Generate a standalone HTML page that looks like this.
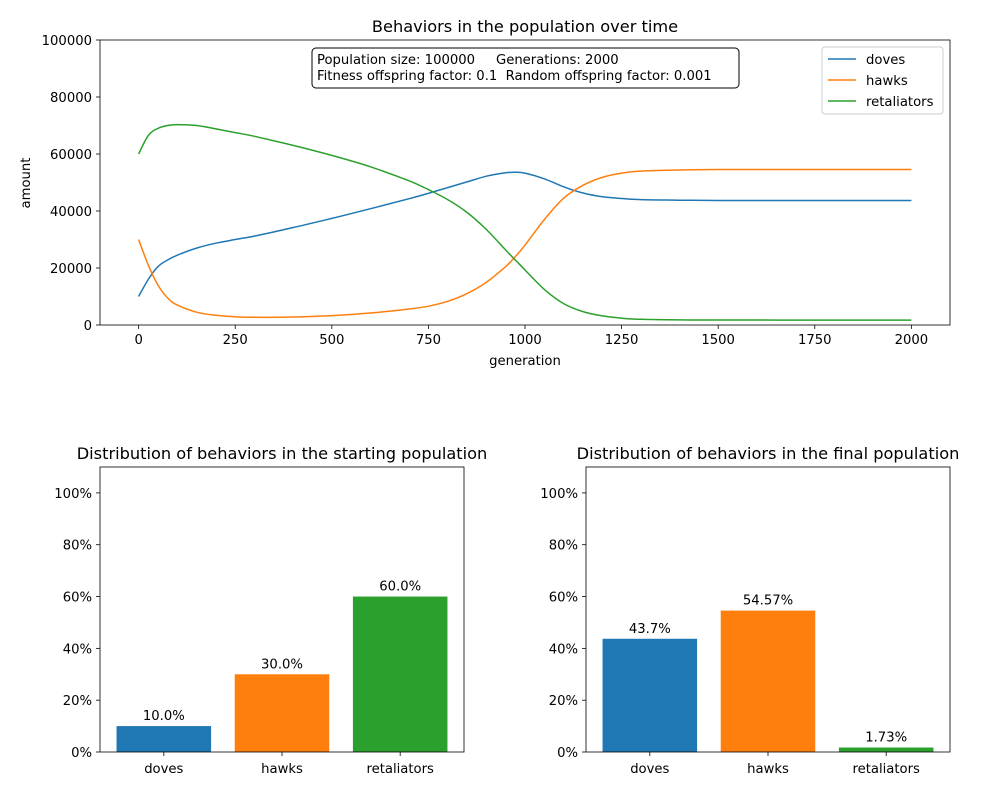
<!DOCTYPE html>
<html><head><meta charset="utf-8"><style>
body{margin:0;background:#fff;font-family:"Liberation Sans","DejaVu Sans",sans-serif}
svg text{font-family:"DejaVu Sans","Liberation Sans",sans-serif;white-space:pre}
</style></head><body>
<svg id="c" width="1000" height="800" xmlns="http://www.w3.org/2000/svg"></svg>
<script>
const gens=[0,25,50,75,100,150,200,250,300,400,500,600,700,750,800,850,900,950,975,1000,1050,1100,1150,1200,1250,1300,1400,1500,1750,2000];
const doves=[10000,16000,20500,22800,24500,27000,28700,30000,31200,34200,37400,40800,44300,46200,48200,50200,52200,53400,53600,53300,51300,48500,46300,45000,44400,44000,43800,43700,43700,43700];
const hawks=[30000,21000,14000,9500,7000,4500,3400,2900,2700,2800,3300,4200,5600,6600,8300,11000,15000,20500,24000,28000,37000,44500,49000,51800,53300,54000,54400,54570,54570,54570];
const retal=[60000,66500,69000,70000,70300,70000,68800,67500,66200,63000,59500,55500,50600,47500,44000,39500,33500,26300,22800,19300,12500,7500,4700,3200,2400,2000,1800,1750,1730,1730];
const cats=["doves","hawks","retaliators"];
const startVals=[10.0,30.0,60.0];
const finalVals=[43.7,54.57,1.73];
const startLabels=["10.0%","30.0%","60.0%"];
const finalLabels=["43.7%","54.57%","1.73%"];
const xTicks=[0,250,500,750,1000,1250,1500,1750,2000];
const yTicks=[0,20000,40000,60000,80000,100000];
const pTicks=[0,20,40,60,80,100];
const colors=["#1f77b4","#ff7f0e","#2ca02c"];
const NS="http://www.w3.org/2000/svg";
const svg=document.getElementById("c");
function el(t,a,txt){const e=document.createElementNS(NS,t);for(const k in a)e.setAttribute(k,a[k]);if(txt!==undefined)e.textContent=txt;svg.appendChild(e);return e;}
const X=g=>100+(g+100)/2200*850, Y=v=>325-v/100000*285;
function smooth(pts){let d="M"+pts[0][0].toFixed(1)+","+pts[0][1].toFixed(1);
 for(let i=0;i<pts.length-1;i++){const p0=pts[Math.max(i-1,0)],p1=pts[i],p2=pts[i+1],p3=pts[Math.min(i+2,pts.length-1)];
  const c1=[p1[0]+(p2[0]-p0[0])/6,p1[1]+(p2[1]-p0[1])/6],c2=[p2[0]-(p3[0]-p1[0])/6,p2[1]-(p3[1]-p1[1])/6];
  d+="C"+c1.map(v=>v.toFixed(1))+" "+c2.map(v=>v.toFixed(1))+" "+p2.map(v=>v.toFixed(1));}
 return d;}
[[doves,"doves-line"],[hawks,"hawks-line"],[retal,"retaliators-line"]].forEach(([s,n],i)=>{
 const p=el("path",{d:smooth(s.map((v,j)=>[X(gens[j]),Y(v)])),fill:"none",stroke:colors[i],"stroke-width":1.5,"stroke-linejoin":"round"});
 
 
});
let f=el("rect",{x:100,y:40,width:850,height:285,fill:"none",stroke:"#000","stroke-width":0.8});


xTicks.forEach(t=>{el("line",{x1:X(t),x2:X(t),y1:325,y2:329,stroke:"#000","stroke-width":0.8});
 const tx=el("text",{x:X(t),y:344,"font-size":13.2,"text-anchor":"middle"},t);
 
 });
yTicks.forEach(t=>{el("line",{x1:96,x2:100,y1:Y(t),y2:Y(t),stroke:"#000","stroke-width":0.8});
 const tx=el("text",{x:92,y:Y(t)+5,"font-size":13.2,"text-anchor":"end"},t);
 
 });
let t1=el("text",{x:525,y:32,"font-size":16.2,"text-anchor":"middle"},"Behaviors in the population over time");

let xl=el("text",{x:525,y:365,"font-size":13.2,"text-anchor":"middle"},"generation");

let yl=el("text",{x:30,y:183,"font-size":13.2,"text-anchor":"middle",transform:"rotate(-90 30 183)"},"amount");

let ib=el("rect",{x:312,y:48,width:427,height:40,rx:4,fill:"#fff",stroke:"#000","stroke-width":1});

el("text",{x:317,y:64,"font-size":13.2},"Population size: 100000     Generations: 2000");
el("text",{x:317,y:80,"font-size":13.2},"Fitness offspring factor: 0.1  Random offspring factor: 0.001");
let lg=el("rect",{x:822,y:47,width:121,height:67,rx:3,fill:"#fff",stroke:"#ccc","stroke-width":1});

cats.forEach((c,i)=>{const y=59+i*21;
 el("line",{x1:828,x2:856,y1:y,y2:y,stroke:colors[i],"stroke-width":1.5});
 const tx=el("text",{x:866,y:y+5,"font-size":13.2},c);
 });
function bars(x0,vals,labels,title,nm){
 const W=364,BX=i=>x0+(i+0.54)/3.08*W,BY=v=>752-v/110*285;
 let tt=el("text",{x:x0+W/2,y:459,"font-size":16.2,"text-anchor":"middle"},title);
 
 vals.forEach((v,i)=>{const w=0.8/3.08*W;
  const r=el("rect",{x:BX(i)-w/2,y:BY(v),width:w,height:752-BY(v),fill:colors[i]});
  
  const lt=el("text",{x:BX(i),y:BY(v)-6,"font-size":13.2,"text-anchor":"middle"},labels[i]);
  
  el("line",{x1:BX(i),x2:BX(i),y1:752,y2:756,stroke:"#000","stroke-width":0.8});
  const ct=el("text",{x:BX(i),y:773,"font-size":13.2,"text-anchor":"middle"},cats[i]);
  });
 pTicks.forEach(t=>{el("line",{x1:x0-4,x2:x0,y1:BY(t),y2:BY(t),stroke:"#000","stroke-width":0.8});
  const tx=el("text",{x:x0-8,y:BY(t)+5,"font-size":13.2,"text-anchor":"end"},t+"%");
  });
 const fr=el("rect",{x:x0,y:467,width:W,height:285,fill:"none",stroke:"#000","stroke-width":0.8});
 
}
bars(100,startVals,startLabels,"Distribution of behaviors in the starting population","start-chart");
bars(586,finalVals,finalLabels,"Distribution of behaviors in the final population","final-chart");
</script>
</body></html>
